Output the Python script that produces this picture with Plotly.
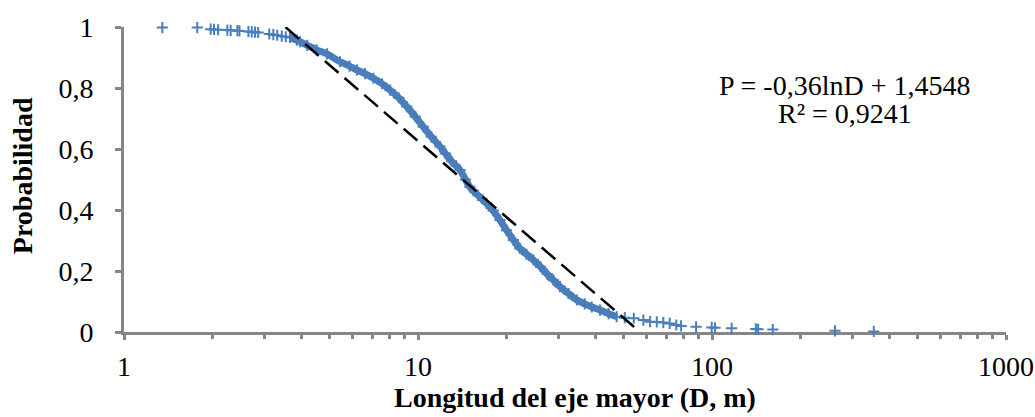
import math
import plotly.graph_objects as go

# ---- data ----
# sparse upper points (individually visible crosses)
D_top = [1.35, 1.775, 1.972, 2.024, 2.09, 2.247, 2.306, 2.43, 2.47, 2.65, 2.72,
         2.79, 2.86, 3.12, 3.22, 3.32, 3.44, 3.55, 3.67]
P_top = [0.998, 0.998, 0.993, 0.992, 0.991, 0.990, 0.989, 0.988, 0.987, 0.985, 0.984,
         0.983, 0.982, 0.977, 0.975, 0.973, 0.970, 0.968, 0.966]

# dense central band
D_mid = [3.67, 3.87, 3.97, 4.20, 4.52, 4.90, 5.43, 5.85, 6.20, 6.60, 7.05, 7.55, 8.04,
         8.60, 9.16, 9.80, 10.42, 11.10, 11.88, 12.4, 13.0, 13.9, 14.5, 15.0, 16.0,
         17.1, 18.0, 19.0, 20.0, 21.1, 22.2, 23.4, 24.7, 26.1, 27.5, 28.9, 30.4, 32.5,
         34.7, 36.9, 39.0, 41.6, 44.5, 47.4]
P_mid = [0.966, 0.957, 0.952, 0.940, 0.925, 0.912, 0.886, 0.872, 0.859, 0.847, 0.832,
         0.814, 0.793, 0.768, 0.739, 0.706, 0.673, 0.640, 0.608, 0.585, 0.560, 0.531,
         0.500, 0.476, 0.448, 0.422, 0.398, 0.367, 0.334, 0.302, 0.274, 0.255, 0.236,
         0.214, 0.190, 0.170, 0.149, 0.126, 0.105, 0.092, 0.082, 0.072, 0.060, 0.050]

# sparse tail
D_tail = [50.5, 54.2, 58.4, 61.6, 64.9, 68.3, 71.8, 75.6, 78.5, 88.3, 99.8, 102.4,
          116.6, 141.0, 143.5, 161.0, 262.0, 355.0]
P_tail = [0.047, 0.045, 0.039, 0.034, 0.033, 0.031, 0.028, 0.023, 0.020, 0.017, 0.015,
          0.014, 0.012, 0.010, 0.009, 0.008, 0.004, 0.002]

# logarithmic trendline shown on the chart: P = a*ln(D) + b
trend_a = -0.36
trend_b = 1.4548
trend_D = [3.54, 56.9]

x_tickvals = [1, 10, 100, 1000]
x_ticktext = ["1", "10", "100", "1000"]
y_tickvals = [0, 0.2, 0.4, 0.6, 0.8, 1]
y_ticktext = ["0", "0,2", "0,4", "0,6", "0,8", "1"]

eq_line1 = "P = -0,36lnD + 1,4548"
eq_line2 = "R² = 0,9241"
x_title = "Longitud del eje mayor (D, m)"
y_title = "Probabilidad"

# ---- figure ----
BLUE = "#4A7EBB"
GRAY = "#868686"
FONT = "Times New Roman, Liberation Serif, DejaVu Serif, serif"

fig = go.Figure()

# dense band of overlapping crosses
fig.add_trace(go.Scatter(
    x=D_mid, y=P_mid, mode="lines",
    line=dict(color=BLUE, width=7, shape="spline"),
    hoverinfo="skip", showlegend=False, cliponaxis=False,
))

D_all = D_top + D_mid + D_tail
P_all = P_top + P_mid + P_tail
fig.add_trace(go.Scatter(
    x=D_all, y=P_all, mode="markers",
    marker=dict(symbol="cross-thin", size=8, color=BLUE,
                line=dict(color=BLUE, width=2)),
    showlegend=False, cliponaxis=False,
))

trend_P = [trend_a * math.log(d) + trend_b for d in trend_D]
fig.add_trace(go.Scatter(
    x=trend_D, y=trend_P, mode="lines",
    line=dict(color="black", width=2.5, dash="18px,8px"),
    showlegend=False, cliponaxis=False,
))

fig.update_layout(
    width=1035, height=417,
    margin=dict(l=124, r=29, t=27, b=85, autoexpand=False),
    paper_bgcolor="white", plot_bgcolor="white",
    font=dict(family=FONT, size=28, color="black"),
    xaxis=dict(
        type="log", range=[0, 3], automargin=False,
        tickvals=x_tickvals, ticktext=x_ticktext,
        showgrid=False, zeroline=False,
        showline=True, linecolor=GRAY, linewidth=3,
        ticks="outside", ticklen=5, tickwidth=3, tickcolor=GRAY,
        tickfont=dict(family=FONT, size=28),
        ticklabelstandoff=2,
        layer="below traces",
        minor=dict(ticks="outside", ticklen=4, tickwidth=3, tickcolor=GRAY,
                   dtick="D1", showgrid=False),
    ),
    yaxis=dict(
        range=[0, 1], automargin=False,
        tickvals=y_tickvals, ticktext=y_ticktext,
        showgrid=False, zeroline=False,
        showline=True, linecolor=GRAY, linewidth=3,
        ticks="outside", ticklen=6, tickwidth=3, tickcolor=GRAY,
        tickfont=dict(family=FONT, size=28),
        ticklabelstandoff=16,
        layer="below traces",
    ),
    annotations=[
        dict(text=eq_line1, xref="paper", yref="paper", x=0.817, y=0.807,
             xanchor="center", yanchor="middle", showarrow=False,
             font=dict(family=FONT, size=28)),
        dict(text=eq_line2, xref="paper", yref="paper", x=0.817, y=0.715,
             xanchor="center", yanchor="middle", showarrow=False,
             font=dict(family=FONT, size=28)),
        dict(text="<b>" + x_title + "</b>", xref="paper", yref="paper",
             x=0.511, y=-0.215, xanchor="center", yanchor="middle", showarrow=False,
             font=dict(family=FONT, size=28)),
        dict(text="<b>" + y_title + "</b>", xref="paper", yref="paper",
             x=-0.1156, y=0.511, xanchor="center", yanchor="middle", showarrow=False,
             textangle=-90, font=dict(family=FONT, size=28)),
    ],
)

# remove the browser's default page margin so the figure fills the window exactly
fig.write_html(
    "out.html",
    config={"displayModeBar": False},
    post_script="document.body.style.margin='0';document.body.style.overflow='hidden';",
)
